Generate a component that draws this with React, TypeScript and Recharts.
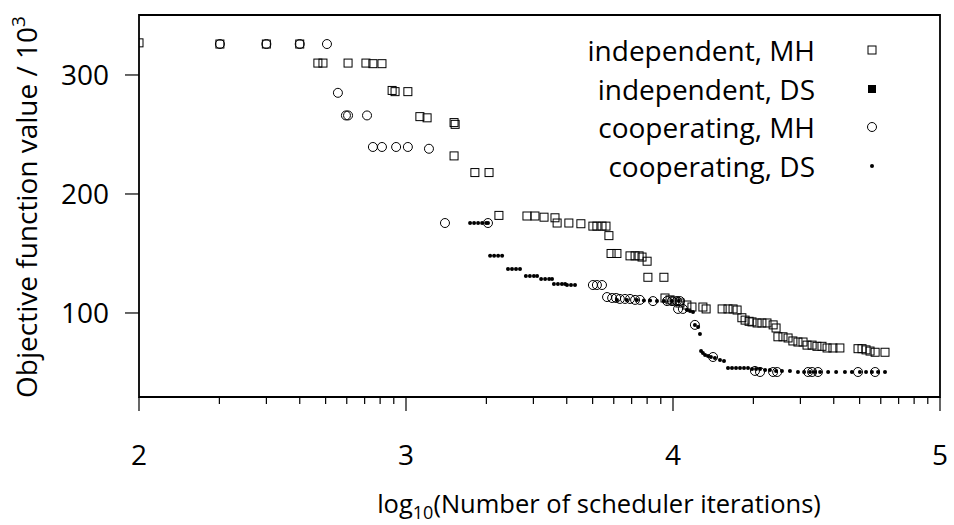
import { Legend, ReferenceArea, Scatter, ScatterChart, XAxis, YAxis } from "recharts";

const FONT = "'Open Sans', 'Noto Sans', sans-serif";
const INK = "#000";

type Pt = { x: number; y: number };
const pts = (rows: number[][]): Pt[] => rows.map(([x, y]) => ({ x, y }));

// x: log10(iterations), y: objective / 10^3
const INDEPENDENT_MH = pts([
  [2.0, 327], [2.303, 326], [2.477, 326], [2.602, 326],
  [2.67, 310], [2.689, 310], [2.783, 310], [2.85, 310], [2.876, 309.5], [2.91, 309.5],
  [2.948, 287], [2.959, 286], [3.007, 286], [3.052, 265], [3.079, 264],
  [3.18, 260], [3.184, 258.5], [3.18, 232], [3.258, 218], [3.311, 218],
  [3.348, 182], [3.453, 181.5], [3.483, 181.5], [3.517, 180.5], [3.558, 180],
  [3.566, 175.6], [3.61, 175.6], [3.655, 175], [3.7, 173], [3.715, 173], [3.734, 173], [3.749, 173],
  [3.76, 165], [3.768, 150], [3.79, 150], [3.839, 148], [3.858, 148], [3.873, 148], [3.884, 147],
  [3.903, 143.5], [3.906, 130], [3.966, 130],
  [3.97, 112.6], [3.989, 111], [4.007, 110], [4.026, 108.4], [4.052, 106.7],
  [4.071, 105], [4.112, 105], [4.124, 103.4], [4.184, 103.4], [4.206, 103.4], [4.225, 103.4], [4.24, 102.5],
  [4.258, 96], [4.27, 94], [4.285, 93], [4.296, 92.5], [4.315, 91.6], [4.333, 91.6], [4.352, 91.6],
  [4.375, 90], [4.386, 87.4], [4.393, 80], [4.412, 80], [4.431, 79], [4.449, 76.5], [4.468, 75.6],
  [4.487, 75.6], [4.502, 73], [4.521, 73], [4.539, 72], [4.558, 72], [4.577, 70.6], [4.599, 70.6],
  [4.625, 70.6], [4.693, 70], [4.708, 70], [4.723, 69], [4.738, 68], [4.757, 67], [4.794, 67],
]);

const INDEPENDENT_DS: Pt[] = [];

const COOPERATING_MH = pts([
  [2.303, 326], [2.477, 326], [2.602, 326], [2.704, 326],
  [2.745, 285], [2.775, 266], [2.783, 266], [2.854, 266],
  [2.876, 239.5], [2.91, 239.5], [2.963, 239.5], [3.007, 239.5], [3.086, 238],
  [3.146, 175.6], [3.307, 175.6],
  [3.7, 123.5], [3.715, 123.5], [3.734, 123.5],
  [3.753, 113.4], [3.772, 112.6], [3.787, 112.6], [3.801, 111.8], [3.82, 111.8], [3.839, 111.8],
  [3.858, 111], [3.876, 111], [3.925, 110], [3.978, 110], [3.996, 110], [4.015, 110], [4.026, 110],
  [4.019, 103.4], [4.037, 103.4], [4.082, 90], [4.15, 63],
  [4.307, 51.3], [4.326, 50.4], [4.375, 50.4], [4.39, 50.4], [4.506, 50.4], [4.521, 50.4],
  [4.543, 50.4], [4.693, 50.4], [4.757, 50.4],
]);

const COOPERATING_DS = pts([
  [3.24, 175.6], [3.255, 175.6], [3.27, 175.6], [3.285, 175.6], [3.3, 175.6], [3.307, 175.6],
  [3.315, 148], [3.33, 148], [3.345, 148], [3.36, 148],
  [3.382, 137], [3.397, 137], [3.412, 137], [3.427, 137],
  [3.449, 131], [3.464, 131], [3.479, 131], [3.491, 131],
  [3.506, 128.6], [3.521, 128.6], [3.536, 128.6], [3.547, 128.6],
  [3.554, 124.4], [3.569, 124.4], [3.584, 124.4], [3.596, 124.4],
  [3.603, 123.5], [3.618, 123.5], [3.633, 123.5],
  [3.79, 111], [3.827, 111], [3.865, 111], [3.891, 110.5], [3.914, 110.5], [3.94, 110],
  [3.966, 110], [3.996, 110], [4.022, 110],
  [4.052, 102.5], [4.064, 101.7], [4.075, 100.8], [4.082, 90], [4.094, 88.2], [4.101, 82.4],
  [4.105, 68], [4.112, 66.4], [4.12, 64.7], [4.131, 63.9], [4.142, 63], [4.157, 62.2],
  [4.176, 60.5], [4.191, 59.7],
  [4.206, 53.8], [4.221, 53.8], [4.236, 53.8], [4.251, 53.8], [4.266, 53.8], [4.281, 53.8],
  [4.296, 53], [4.311, 53], [4.326, 53],
  [4.345, 52], [4.363, 52], [4.386, 51.3], [4.408, 51.3], [4.438, 51.3],
  [4.468, 50.4], [4.491, 50.4], [4.513, 50.4], [4.532, 50.4], [4.551, 50.4], [4.581, 50.4],
  [4.611, 50.4], [4.644, 50.4], [4.67, 50.4], [4.7, 50.4], [4.723, 50.4], [4.745, 50.4],
  [4.768, 50.4], [4.794, 50.4],
]);

const X_DOMAIN: [number, number] = [2, 5];
const Y_DOMAIN: [number, number] = [29.4, 350.4];
const X_MAJOR = [2, 3, 4, 5];
const X_MINOR_MULTIPLES = [2, 3, 4, 5, 6, 7, 8, 9];
const X_TICKS = [
  ...X_MAJOR,
  ...X_MAJOR.slice(0, -1).flatMap((d) => X_MINOR_MULTIPLES.map((m) => d + Math.log10(m))),
].sort((a, b) => a - b);
const Y_TICKS = [100, 200, 300];

const SERIES = [
  { name: "independent, MH", marker: "square" },
  { name: "independent, DS", marker: "filledSquare" },
  { name: "cooperating, MH", marker: "circle" },
  { name: "cooperating, DS", marker: "dot" },
];

function Marker({ kind, cx, cy }: { kind: string; cx: number; cy: number }) {
  if (kind === "square")
    return <rect x={cx - 4} y={cy - 4} width={8} height={8} fill="none" stroke={INK} strokeWidth={1} />;
  if (kind === "filledSquare") return <rect x={cx - 4} y={cy - 4} width={8} height={8} fill={INK} />;
  if (kind === "circle") return <circle cx={cx} cy={cy} r={4.5} fill="none" stroke={INK} strokeWidth={1} />;
  return <circle cx={cx} cy={cy} r={2} fill={INK} />;
}

const shapeFor = (kind: string) => (props: any) => <Marker kind={kind} cx={props.cx} cy={props.cy} />;

function XTick({ x, y, payload }: any) {
  const major = Number.isInteger(payload.value);
  return (
    <g>
      <line x1={x} x2={x} y1={y} y2={y + (major ? 14 : 7)} stroke={INK} strokeWidth={1.2} />
      {major && (
        <text x={x} y={y + 68} textAnchor="middle" fontSize={28} fontFamily={FONT} fill={INK}>
          {payload.value}
        </text>
      )}
    </g>
  );
}

function LegendBox() {
  return (
    <div style={{ fontFamily: FONT, fontSize: 28, color: INK }}>
      {SERIES.map((s) => (
        <div key={s.name} style={{ display: "flex", alignItems: "center", height: 38.5 }}>
          <div style={{ width: 255, textAlign: "right", lineHeight: "38.5px", whiteSpace: "nowrap" }}>{s.name}</div>
          <svg width={20} height={20} style={{ marginLeft: 47 }}>
            <Marker kind={s.marker} cx={10} cy={10} />
          </svg>
        </div>
      ))}
    </div>
  );
}

export default function App() {
  return (
    <div style={{ position: "absolute", left: 0, top: 0, width: 954, height: 525, overflow: "hidden", background: "#fff" }}>
      <ScatterChart width={954} height={525} margin={{ top: 15, right: 14, bottom: 68, left: 79 }}>
        <XAxis
          type="number"
          dataKey="x"
          domain={X_DOMAIN}
          ticks={X_TICKS}
          interval={0}
          allowDataOverflow
          height={60}
          axisLine={false}
          tickLine={false}
          tickSize={0}
          tickMargin={0}
          tick={<XTick />}
        />
        <YAxis
          type="number"
          dataKey="y"
          domain={Y_DOMAIN}
          ticks={Y_TICKS}
          interval={0}
          allowDataOverflow
          width={60}
          axisLine={false}
          tickSize={14}
          tickMargin={16}
          tickLine={{ stroke: INK, strokeWidth: 1.2 }}
          tick={{ fontSize: 28, fontFamily: FONT, fill: INK }}
        />
        <ReferenceArea
          x1={X_DOMAIN[0]}
          x2={X_DOMAIN[1]}
          y1={Y_DOMAIN[0]}
          y2={Y_DOMAIN[1]}
          fill="none"
          stroke={INK}
          strokeWidth={1.8}
          fillOpacity={0}
          ifOverflow="visible"
        />
        <Legend
          layout="horizontal"
          verticalAlign="middle"
          align="center"
          wrapperStyle={{ left: 560, top: 31, width: 330, height: 160 }}
          content={() => <LegendBox />}
        />
        <Scatter name="independent, DS" data={INDEPENDENT_DS} shape={shapeFor("filledSquare")} isAnimationActive={false} />
        <Scatter name="independent, MH" data={INDEPENDENT_MH} shape={shapeFor("square")} isAnimationActive={false} />
        <Scatter name="cooperating, MH" data={COOPERATING_MH} shape={shapeFor("circle")} isAnimationActive={false} />
        <Scatter name="cooperating, DS" data={COOPERATING_DS} shape={shapeFor("dot")} isAnimationActive={false} />
      </ScatterChart>
      <svg width={954} height={525} style={{ position: "absolute", left: 0, top: 0, pointerEvents: "none" }}>
        <text
          transform="translate(37 207) rotate(-90)"
          textAnchor="middle"
          fontSize={28}
          fontFamily={FONT}
          fill={INK}
        >
          Objective function value / 10<tspan dy={-12} fontSize={19}>3</tspan>
        </text>
        <text x={599} y={513} textAnchor="middle" fontSize={25.5} fontFamily={FONT} fill={INK}>
          log<tspan dy={6} fontSize={18}>10</tspan>
          <tspan dy={-6}>(Number of scheduler iterations)</tspan>
        </text>
      </svg>
    </div>
  );
}
